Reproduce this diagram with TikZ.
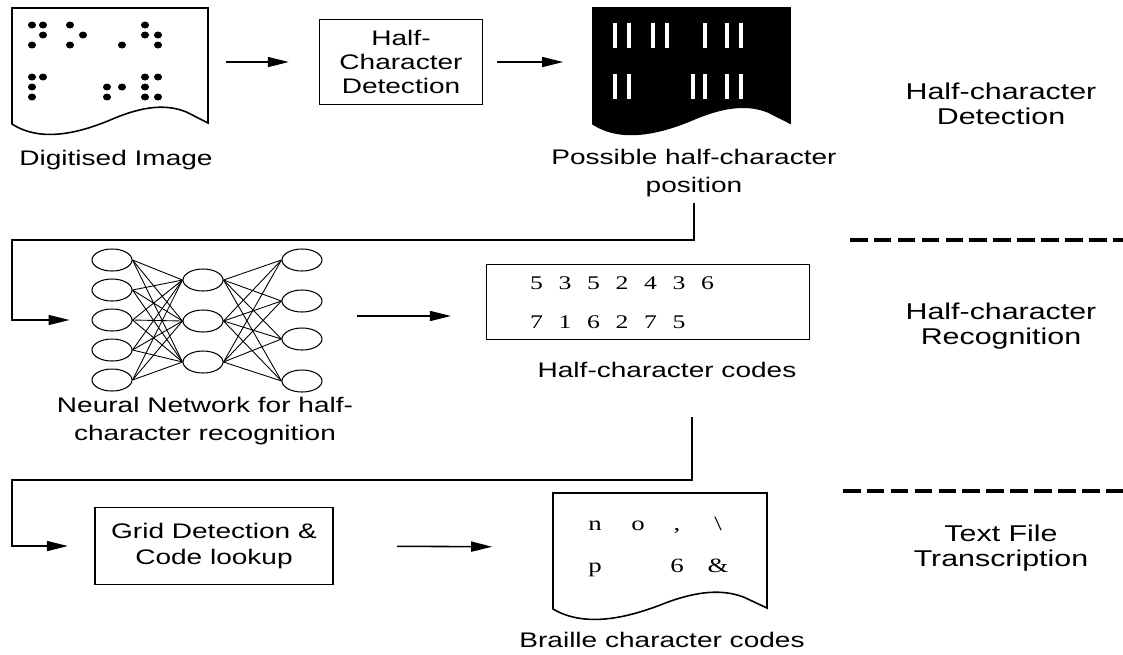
\documentclass[tikz,border=0pt]{standalone}
\usepackage{fontspec}
\setmainfont[FakeStretch=1.33]{Liberation Sans}
\newfontfamily\codefont[FakeStretch=1.33]{Liberation Serif}
\usetikzlibrary{arrows.meta,positioning,shapes.geometric}
\newcommand\labfont{\fontsize{12}{13.6}\selectfont}
\newcommand\stagefont{\fontsize{13}{14}\selectfont}

\tikzset{
paper/.pic={
\draw[line width=0.9pt, pic actions, xscale=#1/200] (0,0) -- (200,0) -- (200,115) -- (178,104)
  .. controls (158,96) and (135,98) .. (105,110)
  .. controls (70,125) and (30,135) .. (0,116) -- cycle;
\coordinate (-w) at (0,54);
\coordinate (-e) at (#1,54);
}
}

\begin{document}
\begin{tikzpicture}[x=0.02cm, y=-0.02cm,
>={Triangle[length=4.2mm,width=2mm]},
flow/.style={->, line width=0.9pt},
box/.style={draw, line width=0.9pt, align=center, font=\labfont},
lab/.style={align=center, font=\labfont},
stage/.style={align=center, font=\stagefont},
neuron/.style={draw, ellipse, minimum width=0.8cm, minimum height=0.44cm, inner sep=0pt, line width=0.6pt},
wire/.style={line width=0.5pt},
sep/.style={line width=2.2pt, dash pattern=on 10pt off 3.6pt},
digit/.style={font=\codefont\fontsize{11}{13}\selectfont, inner sep=0pt, anchor=base},
letter/.style={font=\codefont\fontsize{11.5}{13}\selectfont, inner sep=0pt, anchor=base}]
\useasboundingbox (0,0) rectangle (1123,654);

% stage 1: half-character detection
\pic (img) at (12,8) {paper=196};
\foreach \x/\y in {32/25,43/25,43/35,32/45, 70/25,83/35,70/45, 122/45,
  145/25,145/35,158/35,158/45, 32/77,43/77,32/87,32/97,
  107/87,122/87,107/97, 145/77,158/77,145/87,145/97,158/97}
  \fill (\x,\y) ellipse [x radius=0.08cm, y radius=0.07cm];
\node[lab] (imglab) at (116,160) {Digitised Image};

\node[box, minimum width=3.26cm, minimum height=1.7cm] (hcd) at (401,62) {Half-\\Character\\Detection};

\pic[fill=black] (dark) at (593,8) {paper=197};
\foreach \x in {615,629,653,667,705,727,741}
  \fill[white] (\x-2,23) rectangle (\x+2,48);
\foreach \x in {615,629,693,705,727,741}
  \fill[white] (\x-2,74) rectangle (\x+2,99);
\node[lab] (pos) at (694,173) {Possible half-character\\[2pt]position};

\draw[flow, shorten <=10pt, shorten >=17pt] (img-e) -- (hcd.west);
\draw[flow, shorten <=8pt, shorten >=17pt] (hcd.east) -- (dark-w);

% stage 2: half-character recognition
\foreach \y [count=\i] in {260,290,320,350,380}
  \node[neuron] (in\i) at (112,\y) {};
\foreach \y [count=\i] in {280,321,362}
  \node[neuron] (hid\i) at (203,\y) {};
\foreach \y [count=\i] in {260,301,339,381}
  \node[neuron] (out\i) at (302,\y) {};
\foreach \i in {1,...,5}
  \foreach \j in {1,2,3}
    \draw[wire] (in\i.east) -- (hid\j.west);
\foreach \j in {1,2,3}
  \foreach \k in {1,...,4}
    \draw[wire] (hid\j.east) -- (out\k.west);
\node[lab] (nnlab) at (205,421) {Neural Network for half-\\[2pt]character recognition};

\node[box, minimum width=6.46cm, minimum height=1.5cm] (codes) at (648,302) {};
\foreach \d [count=\i] in {5,3,5,2,4,3,6}
  \node[digit] at (508+28.5*\i,289) {\d};
\foreach \d [count=\i] in {7,1,6,2,7,5}
  \node[digit] at (508+28.5*\i,328) {\d};
\node[lab] (codeslab) at (667,370) {Half-character codes};

\coordinate (bendA) at (12,240);
\draw[flow, shorten >=12.5pt] (pos.south) |- (bendA) |- (in3.west);
\coordinate (nnout) at (357,316);
\draw[flow, shorten >=19.8pt] (nnout) -- (nnout -| codes.west);

% stage 3: text file transcription
\node[box, minimum width=4.76cm, minimum height=1.54cm] (grid) at (214,546) {Grid Detection \&\\[1pt]Code lookup};

\pic (braille) at (553,493) {paper=214};
\node[letter] at (595,530) {n};
\node[letter] at (638,530) {o};
\node[letter] at (677,530) {,};
\node[letter] at (718,530) {\textbackslash};
\node[letter] at (595,572) {p};
\node[letter] at (677,572) {6};
\node[letter] at (718,572) {\&};
\node[lab] (braillelab) at (662,640) {Braille character codes};

\coordinate (codesout) at (692,417);
\coordinate (bendB) at (12,480);
\draw[flow, shorten >=15pt] (codesout) |- (bendB) |- (grid.west);
\draw[flow, shorten <=36pt, shorten >=34.6pt] (grid.east) -- (braille-w);

% stage names
\node[stage] (st1) at (1001,104) {Half-character\\Detection};
\node[stage] (st2) at (1001,326) {Half-character\\Recognition};
\node[stage] (st3) at (1001,548) {Text File\\Transcription};
\draw[sep] (850,240) -- (1123,240);
\draw[sep] (843,491) -- (1123,491);
\end{tikzpicture}
\end{document}
